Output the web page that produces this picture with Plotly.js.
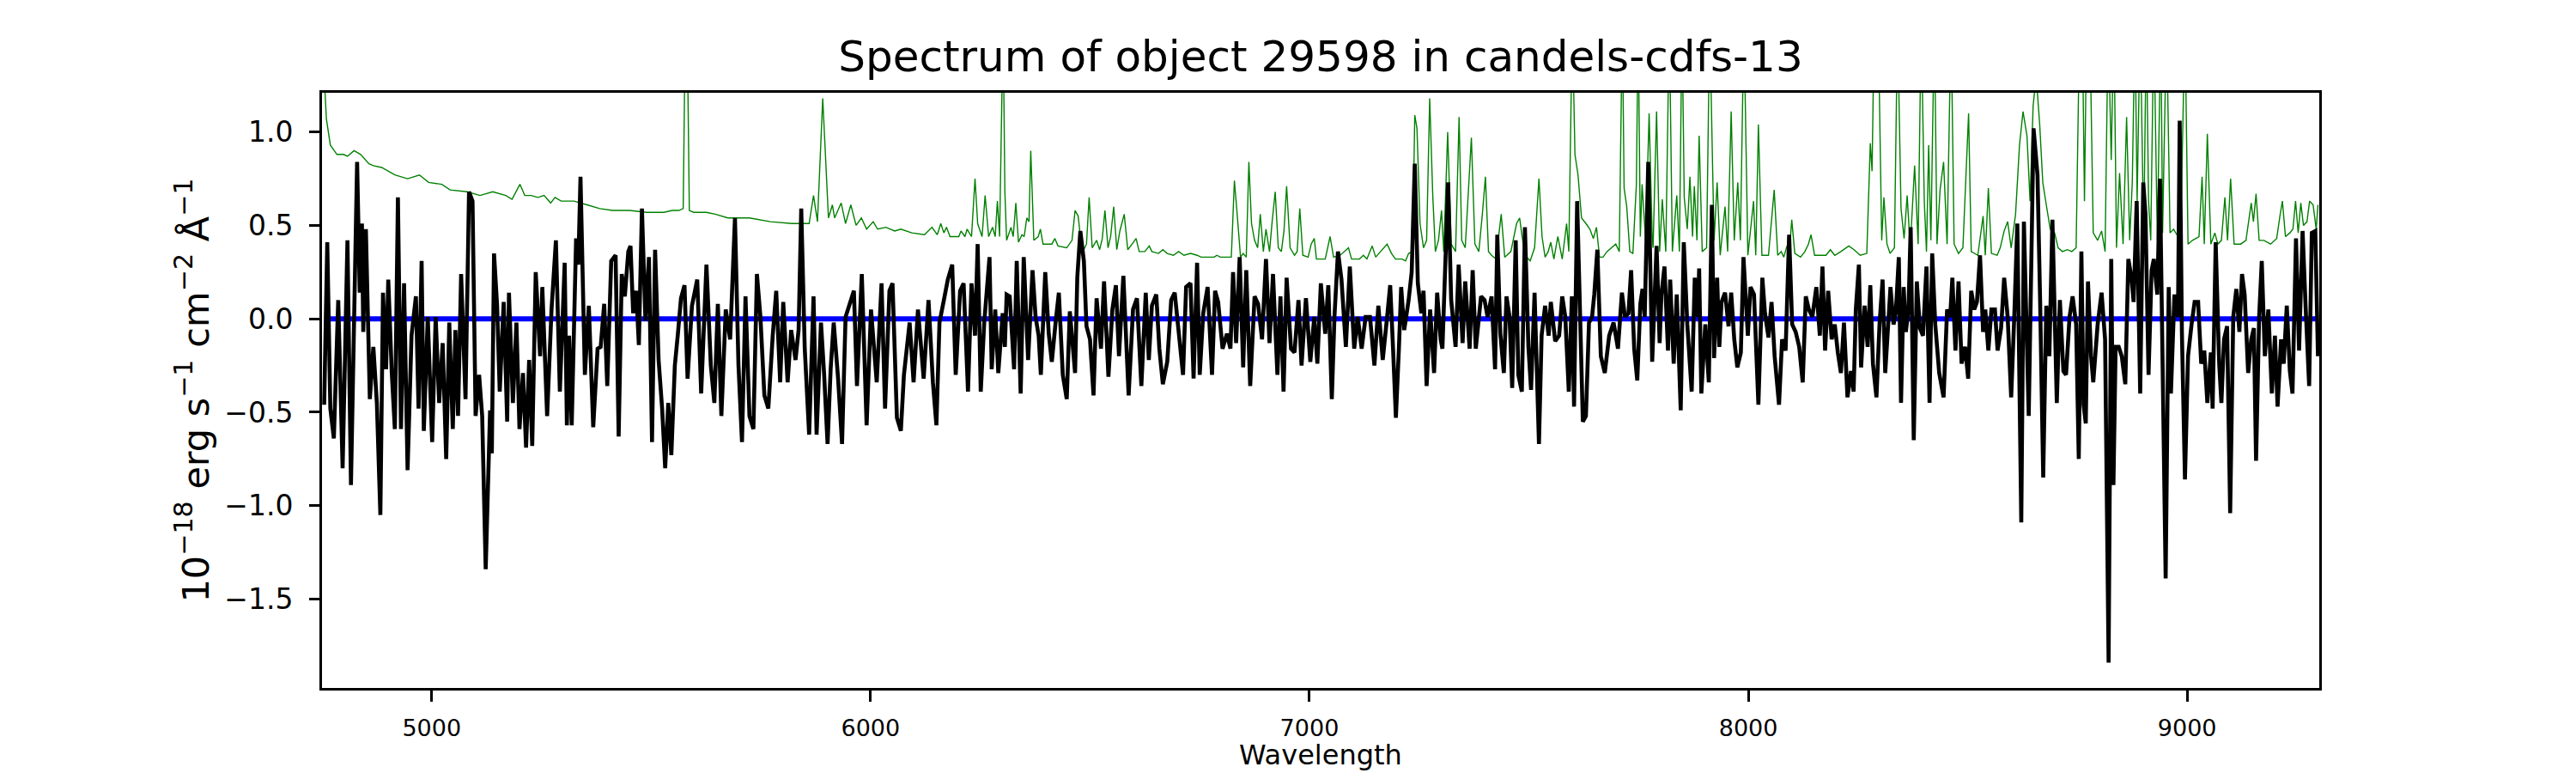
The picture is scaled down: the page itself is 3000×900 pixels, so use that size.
<!DOCTYPE html>
<html>
<head>
<meta charset="utf-8">
<script src="https://cdn.plot.ly/plotly-3.0.1.min.js"></script>
<style>html,body{margin:0;padding:0;background:#fff;}#chart{width:3000px;height:900px;}</style>
</head>
<body>
<div id="chart"></div>
<script>
const spectrumPoints = [
[4755,-0.46],[4762,0.41],[4769,-0.48],[4777,-0.64],[4787,0.10],[4797,-0.80],[4808,0.42],[4816,-0.89],[4830,0.84],[4836,0.14],
[4841,0.51],[4844,-0.07],[4850,0.48],[4859,-0.43],[4867,-0.15],[4875,-0.45],[4883,-1.05],[4889,0.14],[4896,-0.27],[4901,0.21],
[4909,-0.29],[4916,-0.59],[4923,0.65],[4930,-0.59],[4937,0.19],[4945,-0.81],[4954,-0.09],[4964,0.12],[4970,-0.48],[4977,0.31],
[4982,-0.60],[4991,0.01],[5001,-0.66],[5009,0.01],[5017,-0.45],[5025,-0.13],[5033,-0.75],[5040,-0.02],[5048,-0.59],[5054,-0.06],
[5060,-0.52],[5067,0.24],[5077,-0.43],[5085,0.68],[5093,0.63],[5100,-0.52],[5108,-0.30],[5115,-0.52],[5123,-1.34],[5133,-0.49],
[5137,-0.72],[5142,0.35],[5149,0.07],[5155,-0.39],[5164,0.09],[5172,-0.55],[5176,0.14],[5185,-0.45],[5193,-0.02],[5200,-0.59],
[5208,-0.29],[5215,-0.69],[5222,-0.22],[5229,-0.68],[5237,0.25],[5247,-0.20],[5252,0.17],[5263,-0.52],[5273,0.05],[5283,0.42],
[5292,-0.39],[5303,0.30],[5308,-0.57],[5313,-0.09],[5319,-0.57],[5329,0.43],[5334,0.29],[5339,0.76],[5349,-0.30],[5358,0.07],
[5368,-0.58],[5378,-0.16],[5385,-0.15],[5393,0.08],[5400,-0.36],[5409,0.31],[5419,0.34],[5426,-0.63],[5433,0.24],[5440,0.12],
[5448,0.36],[5453,0.39],[5459,0.03],[5466,0.15],[5472,-0.14],[5479,0.59],[5487,-0.01],[5495,0.33],[5502,-0.66],[5509,0.37],
[5517,-0.22],[5525,-0.48],[5532,-0.80],[5539,-0.45],[5546,-0.73],[5554,-0.25],[5561,-0.08],[5568,0.11],[5576,0.18],[5583,-0.32],
[5593,0.07],[5605,0.21],[5614,-0.40],[5626,0.29],[5636,-0.25],[5644,-0.45],[5652,0.08],[5660,-0.52],[5670,0.05],[5680,-0.11],
[5691,0.54],[5699,-0.25],[5707,-0.66],[5715,0.12],[5724,-0.52],[5733,-0.59],[5741,0.24],[5749,0.01],[5758,-0.41],[5767,-0.48],
[5777,-0.09],[5785,0.15],[5794,-0.34],[5801,0.09],[5811,-0.34],[5819,-0.06],[5829,-0.22],[5836,-0.06],[5842,0.59],[5850,-0.16],
[5860,-0.62],[5870,0.12],[5877,-0.62],[5887,-0.02],[5894,-0.29],[5902,-0.67],[5909,-0.27],[5916,-0.02],[5926,-0.32],[5935,-0.67],
[5943,0.01],[5952,0.07],[5962,0.15],[5969,-0.36],[5980,0.24],[5991,-0.57],[6001,0.05],[6014,-0.34],[6025,0.19],[6033,-0.48],
[6043,0.15],[6050,0.19],[6060,-0.53],[6069,-0.60],[6076,-0.30],[6089,-0.02],[6098,-0.34],[6108,0.05],[6121,-0.32],[6132,0.10],
[6142,-0.34],[6150,-0.57],[6157,-0.02],[6167,0.10],[6176,0.21],[6186,0.29],[6194,-0.30],[6204,0.15],[6212,0.19],[6222,-0.39],
[6230,0.19],[6238,-0.09],[6244,0.40],[6251,-0.39],[6259,-0.02],
[6271,0.33],[6276,-0.27],[6284,0.05],[6291,-0.29],[6301,0.03],[6306,-0.15],[6310,0.13],[6317,0.12],[6327,-0.27],[6333,0.31],
[6342,-0.40],[6349,0.33],[6359,-0.22],[6369,0.26],[6376,0.01],[6383,-0.09],[6388,-0.30],[6398,0.25],[6406,-0.08],[6413,-0.23],
[6422,-0.01],[6429,0.14],[6438,-0.30],[6447,-0.43],[6454,0.04],[6461,-0.15],[6466,-0.29],[6471,0.22],[6478,0.47],[6486,0.31],
[6492,-0.04],[6500,-0.11],[6508,-0.41],[6515,0.11],[6525,-0.16],[6532,0.20],[6542,-0.31],[6551,0.05],[6559,0.18],[6566,-0.20],
[6576,0.23],[6588,-0.41],[6598,0.05],[6607,0.11],[6617,-0.36],[6627,0.14],[6634,-0.22],[6641,0.07],[6651,0.13],[6658,-0.16],
[6666,-0.35],[6676,-0.23],[6685,0.10],[6693,0.14],[6703,-0.11],[6712,-0.30],[6719,0.17],[6729,0.19],[6736,-0.32],[6744,0.30],
[6750,-0.30],[6758,0.03],[6768,0.17],[6778,-0.30],[6785,0.15],[6792,0.09],[6802,-0.16],[6812,-0.08],[6820,-0.16],[6826,0.25],
[6833,-0.13],[6841,0.33],[6849,-0.26],[6856,0.26],[6865,-0.36],[6875,0.12],[6883,0.08],[6892,-0.11],[6901,0.32],[6909,-0.13],
[6917,0.24],[6927,-0.30],[6934,0.12],[6941,-0.39],[6948,0.22],[6958,-0.16],[6966,-0.18],[6975,0.10],[6982,-0.25],[6992,0.11],
[7002,-0.23],[7011,0.01],[7018,-0.24],[7026,0.19],[7036,-0.08],[7043,0.18],[7051,-0.43],[7057,0.01],[7065,0.36],[7073,0.21],
[7083,-0.15],[7092,0.28],[7102,-0.16],[7110,0.01],[7119,-0.16],[7128,0.01],[7138,0.01],[7148,-0.25],[7157,0.07],[7167,-0.22],
[7177,0.01],[7184,0.18],[7190,-0.13],[7197,-0.53],[7204,-0.15],[7209,0.17],[7216,-0.06],[7226,0.10],[7233,0.25],[7240,0.83],
[7247,0.19],[7255,0.03],[7260,0.15],[7267,-0.36],[7275,0.05],[7284,-0.29],[7291,0.14],[7299,-0.11],[7303,-0.16],[7308,0.19],
[7316,0.73],[7323,0.10],[7333,-0.15],[7340,0.29],[7349,-0.13],[7355,0.20],[7365,-0.16],[7372,0.26],[7379,-0.16],[7391,0.12],
[7399,0.10],[7406,0.01],[7415,0.12],[7423,-0.27],[7428,0.45],[7435,-0.08],[7443,-0.29],[7449,0.12],[7456,0.01],[7462,-0.37],
[7470,0.42],[7476,-0.30],[7484,-0.39],[7491,0.49],[7499,-0.15],[7505,-0.38],[7513,0.14],[7523,-0.67],[7529,-0.09],[7537,0.07],
[7545,-0.09],[7550,0.09],[7560,-0.12],[7569,-0.09],[7576,0.12],[7583,0.01],[7591,-0.39],[7598,0.12],[7603,-0.47],[7610,0.63],
[7616,0.01],[7623,-0.55],[7630,-0.52],[7637,-0.02],[7644,0.01],[7649,0.13],[7656,0.37],[7664,-0.20],[7673,-0.29],[7683,-0.09],
[7693,-0.02],[7703,-0.16],[7712,0.14],[7719,0.01],[7727,0.03],[7733,0.26],[7740,-0.16],[7747,-0.33],[7754,0.08],[7759,0.16],
[7764,0.01],[7772,0.84],[7781,-0.23],[7791,0.39],
[7798,-0.13],[7802,0.13],[7809,0.28],[7817,-0.17],[7822,0.21],[7830,-0.24],[7837,0.13],[7846,-0.49],[7853,0.41],[7861,-0.03],
[7871,-0.39],[7878,0.22],[7885,0.01],[7888,0.27],[7893,-0.40],[7902,-0.03],[7910,-0.34],[7917,0.61],[7922,-0.21],[7929,0.22],
[7934,-0.15],[7939,0.09],[7947,0.14],[7955,-0.04],[7961,0.14],[7968,-0.11],[7975,-0.26],[7983,-0.18],[7989,0.33],[7999,-0.09],
[8005,0.17],[8013,0.13],[8023,-0.46],[8032,0.22],[8038,0.03],[8046,-0.10],[8053,0.09],[8060,-0.20],[8070,-0.46],[8077,-0.11],
[8085,-0.17],[8093,0.45],[8100,-0.03],[8108,-0.07],[8116,-0.15],[8124,-0.34],[8131,0.12],[8138,0.05],[8146,0.01],[8155,0.17],
[8163,-0.09],[8169,0.28],[8175,-0.17],[8182,0.15],[8190,-0.11],[8197,-0.03],[8204,-0.18],[8211,-0.29],[8218,-0.02],[8226,-0.42],
[8234,-0.28],[8240,-0.39],[8245,0.05],[8252,0.29],[8257,-0.26],[8265,0.07],[8272,-0.15],[8278,0.18],[8284,-0.24],[8292,-0.42],
[8299,-0.03],[8306,0.21],[8312,-0.29],[8318,-0.09],[8324,0.17],[8331,-0.03],[8336,0.03],[8343,0.33],[8348,-0.45],[8354,0.17],
[8359,-0.07],[8365,0.05],[8370,0.49],[8377,-0.65],[8384,0.20],[8391,-0.05],[8398,-0.09],[8406,0.28],[8413,-0.45],[8419,0.35],
[8426,-0.03],[8435,-0.29],[8445,-0.42],[8453,0.05],[8460,0.01],[8465,0.22],[8472,-0.17],[8479,0.20],[8486,-0.24],[8494,-0.15],
[8501,-0.32],[8508,0.15],[8515,0.05],[8521,0.09],[8528,0.34],[8535,-0.07],[8540,0.05],[8547,-0.17],[8554,0.05],[8562,0.05],
[8568,-0.17],[8576,-0.05],[8583,0.22],[8591,0.01],[8599,-0.42],[8606,0.01],[8613,0.51],[8622,-1.09],[8628,0.52],[8633,0.05],
[8639,-0.52],[8650,1.02],[8659,0.77],[8665,0.09],[8672,-0.85],[8679,0.07],[8686,-0.20],[8693,0.53],[8698,-0.07],[8703,-0.45],
[8710,0.10],[8718,-0.28],[8724,-0.30],[8732,0.01],[8739,0.12],[8747,-0.03],[8753,-0.75],[8759,0.36],[8764,-0.46],[8769,-0.56],
[8774,0.20],[8781,-0.20],[8786,-0.34],[8796,-0.03],[8805,0.14],[8813,-0.11],[8821,-1.84],[8827,0.32],[8832,-0.89],[8837,-0.15],
[8844,-0.15],[8851,-0.20],[8859,-0.35],[8866,0.32],[8873,0.22],[8878,0.09],[8885,0.63],[8893,-0.40],[8900,0.73],[8905,0.56],
[8912,-0.30],[8919,0.26],[8924,0.32],[8932,0.13],[8938,0.75],[8945,-0.52],[8951,-1.39],[8958,0.17],[8963,-0.40],[8971,0.13],
[8979,0.01],[8983,1.06],[8988,-0.07],[8995,-0.86],[9002,-0.20],[9010,-0.03],[9017,0.09],[9025,0.09],[9032,-0.24],[9039,-0.17],
[9046,-0.45],[9054,-0.18],[9058,-0.48],[9065,0.41],[9073,-0.24],[9078,-0.45],[9084,-0.11],[9091,-0.04],[9098,-1.04],[9105,0.01],
[9112,0.16],[9119,-0.07],[9125,0.24],[9131,0.13],[9139,-0.29],[9146,-0.11],[9152,-0.05],[9157,-0.76],[9164,0.01],[9170,0.31],
[9177,-0.20],[9185,0.05],[9193,-0.40],[9200,-0.09],[9206,-0.47],[9214,-0.11],[9220,-0.24],[9227,0.07],[9234,-0.28],[9240,-0.40],
[9248,0.43],[9255,-0.17],[9263,0.47],[9270,0.06],[9278,-0.36],[9284,0.46],[9292,0.47],[9298,-0.20]
];

// Uncertainty / sky (green), values above 1.21 run off the top of the axes
const errorPoints = [
[4750,1.40],[4755,1.30],[4760,1.07],[4769,0.93],[4784,0.88],[4799,0.88],[4808,0.87],[4823,0.90],[4838,0.88],[4857,0.83],
[4867,0.82],[4886,0.81],[4916,0.77],[4945,0.75],[4972,0.77],[4993,0.73],[5023,0.72],[5042,0.69],[5081,0.68],[5110,0.66],
[5139,0.68],[5169,0.66],[5183,0.64],[5201,0.72],[5212,0.66],[5227,0.66],[5242,0.65],[5256,0.66],[5271,0.62],[5281,0.65],
[5295,0.63],[5324,0.63],[5354,0.61],[5383,0.59],[5412,0.58],[5451,0.58],[5490,0.57],[5529,0.57],[5548,0.58],[5563,0.58],
[5573,0.59],[5578,1.60],[5582,1.60],[5587,0.58],[5597,0.57],[5626,0.57],[5646,0.56],[5675,0.54],[5724,0.54],[5772,0.52],
[5821,0.51],[5860,0.51],[5870,0.66],[5879,0.52],[5891,1.18],[5897,0.89],[5904,0.54],[5913,0.61],[5918,0.54],[5933,0.62],
[5943,0.51],[5955,0.61],[5967,0.50],[5979,0.54],[5991,0.48],[6006,0.52],[6016,0.48],[6035,0.49],[6055,0.47],[6069,0.48],
[6094,0.46],[6123,0.45],[6140,0.49],[6152,0.45],[6160,0.51],[6167,0.46],[6173,0.49],[6181,0.44],[6201,0.44],[6206,0.47],
[6215,0.44],[6220,0.48],[6230,0.44],[6238,0.75],[6244,0.51],[6254,0.44],[6261,0.66],[6269,0.44],[6278,0.49],[6284,0.44],
[6289,0.63],[6294,0.44],[6302,1.60],[6306,0.68],[6310,0.42],[6320,0.49],[6325,0.44],[6331,0.62],[6337,0.41],[6345,0.45],
[6350,0.44],[6356,0.54],[6361,0.52],[6365,0.90],[6372,0.42],[6382,0.44],[6387,0.48],[6393,0.40],[6413,0.40],[6420,0.43],
[6427,0.39],[6447,0.38],[6459,0.42],[6466,0.58],[6473,0.55],[6479,0.42],[6486,0.37],[6492,0.40],[6498,0.65],[6505,0.38],
[6515,0.42],[6522,0.37],[6528,0.43],[6534,0.58],[6541,0.38],[6547,0.44],[6554,0.60],[6561,0.37],[6568,0.47],[6578,0.56],
[6586,0.37],[6596,0.40],[6605,0.43],[6612,0.36],[6625,0.36],[6635,0.39],[6641,0.36],[6656,0.35],[6666,0.37],[6676,0.35],
[6690,0.34],[6702,0.36],[6714,0.34],[6729,0.35],[6744,0.34],[6753,0.33],[6783,0.33],[6789,0.34],[6797,0.33],[6822,0.33],
[6829,0.74],[6836,0.54],[6843,0.33],[6849,0.35],[6856,0.33],[6862,0.84],[6868,0.51],[6875,0.42],[6882,0.38],[6888,0.56],
[6895,0.36],[6901,0.48],[6909,0.36],[6915,0.52],[6922,0.68],[6929,0.38],[6936,0.36],[6942,0.47],[6948,0.71],[6956,0.38],
[6966,0.34],[6972,0.36],[6978,0.59],[6985,0.34],[6997,0.33],[7004,0.40],[7011,0.43],[7016,0.32],[7036,0.32],[7047,0.44],
[7055,0.33],[7070,0.34],[7080,0.36],[7089,0.38],[7096,0.32],[7114,0.32],[7123,0.34],[7131,0.32],[7143,0.39],[7151,0.33],
[7162,0.36],[7177,0.40],[7187,0.35],[7196,0.32],[7211,0.32],[7219,0.31],[7226,0.35],[7235,0.36],[7240,1.09],[7245,1.02],
[7252,0.51],[7260,0.38],[7267,0.42],[7274,1.18],[7281,0.66],[7287,0.36],[7294,0.42],[7301,0.58],[7306,0.36],[7315,1.00],
[7323,0.40],[7333,0.36],[7341,1.08],[7347,0.42],[7355,0.38],[7362,0.68],[7369,0.97],[7377,0.40],[7386,0.36],[7394,0.56],
[7401,0.76],[7408,0.36],[7415,0.34],[7425,0.32],[7437,0.56],[7445,0.33],[7459,0.36],[7472,0.51],[7479,0.54],[7484,0.45],
[7491,0.34],[7503,0.31],[7513,0.38],[7523,0.75],[7530,0.44],[7537,0.33],[7544,0.36],[7550,0.41],[7557,0.32],[7566,0.44],
[7576,0.32],[7586,0.51],[7591,0.36],[7599,1.60],[7605,0.88],[7612,0.77],[7620,0.54],[7630,0.51],[7639,0.48],[7647,0.43],
[7654,0.49],[7661,0.33],[7669,0.33],[7678,0.36],[7688,0.38],[7698,0.40],[7706,0.36],[7713,1.60],[7717,0.70],[7723,0.60],
[7730,0.36],[7737,0.35],[7745,0.72],[7749,1.60],[7754,0.44],[7758,0.72],[7766,0.42],[7774,1.10],[7781,0.44],[7783,0.38],
[7791,1.11],[7798,0.36],[7804,0.64],[7812,0.36],[7820,1.60],[7827,0.36],[7837,0.66],[7843,0.36],[7849,1.60],[7854,0.65],
[7861,0.48],[7867,0.76],[7873,0.44],[7877,0.71],[7883,0.42],[7888,0.98],[7895,0.36],[7905,0.38],[7912,1.60],[7917,0.93],
[7922,0.42],[7929,0.73],[7936,0.34],[7947,0.60],[7953,0.36],[7961,1.11],[7968,0.42],[7976,0.73],[7982,0.42],[7990,1.60],
[7999,0.34],[8012,0.63],[8017,0.34],[8023,1.04],[8031,0.34],[8046,0.34],[8059,0.69],[8067,0.34],[8075,0.36],[8081,0.33],
[8088,0.39],[8093,0.34],[8099,0.53],[8106,0.35],[8119,0.33],[8129,0.36],[8137,0.40],[8143,0.45],[8151,0.34],[8168,0.34],
[8177,0.34],[8187,0.37],[8197,0.34],[8211,0.36],[8229,0.39],[8241,0.37],[8255,0.34],[8270,0.35],[8278,0.94],[8282,0.79],
[8287,1.60],[8296,1.60],[8304,0.42],[8309,0.65],[8316,0.40],[8323,0.35],[8333,0.38],[8340,1.60],[8348,0.59],[8355,0.43],
[8362,0.66],[8369,0.38],[8379,0.82],[8387,0.40],[8394,1.60],[8401,0.63],[8406,0.36],[8411,0.93],[8416,0.42],[8424,1.60],
[8430,0.40],[8437,0.69],[8445,0.84],[8453,0.40],[8462,1.60],[8469,0.40],[8479,0.35],[8489,0.38],[8502,1.10],[8508,0.36],
[8523,0.34],[8535,0.55],[8540,0.34],[8547,0.70],[8554,0.35],[8567,0.34],[8574,0.38],[8583,0.47],[8591,0.52],[8599,0.38],
[8609,0.56],[8618,0.93],[8626,1.11],[8635,0.98],[8642,0.63],[8649,1.14],[8656,1.30],[8664,1.04],[8671,0.73],[8679,0.61],
[8688,0.48],[8698,0.46],[8706,0.38],[8716,0.36],[8727,0.37],[8737,0.36],[8747,0.38],[8755,1.60],[8761,1.60],[8766,0.63],
[8771,1.60],[8778,1.60],[8786,0.46],[8796,0.42],[8805,0.47],[8813,0.36],[8820,1.60],[8827,0.85],[8833,1.60],[8839,0.38],
[8846,0.78],[8854,0.40],[8862,1.08],[8869,0.42],[8875,0.73],[8881,1.60],[8886,0.63],[8893,1.60],[8901,0.42],[8907,1.60],
[8912,0.63],[8917,0.42],[8924,1.60],[8932,0.42],[8940,1.60],[8944,0.46],[8949,1.04],[8953,1.60],[8961,0.46],[8969,0.48],
[8979,0.44],[8987,0.67],[8995,1.60],[9002,0.40],[9012,0.42],[9019,0.43],[9027,0.44],[9034,0.76],[9039,0.40],[9046,0.99],
[9054,0.40],[9063,0.46],[9070,0.40],[9078,0.42],[9086,0.65],[9092,0.42],[9099,0.75],[9107,0.40],[9122,0.40],[9134,0.42],
[9146,0.62],[9151,0.52],[9157,0.67],[9164,0.42],[9175,0.42],[9190,0.40],[9204,0.43],[9212,0.56],[9217,0.63],[9224,0.44],
[9234,0.46],[9241,0.48],[9247,0.63],[9253,0.46],[9259,0.62],[9265,0.50],[9273,0.52],[9279,0.63],[9287,0.61],[9294,0.48],
[9298,0.61]
];

// Model (blue): flat at zero
const modelWave = [4760, 9294];
const modelFlux = [0, 0];

const xTickVals = [5000, 6000, 7000, 8000, 9000];
const xTickText = ["5000", "6000", "7000", "8000", "9000"];
const yTickVals = [-1.5, -1.0, -0.5, 0.0, 0.5, 1.0];
const yTickText = ["\u22121.5", "\u22121.0", "\u22120.5", "0.0", "0.5", "1.0"];

const titleText = "Spectrum of object 29598 in candels-cdfs-13";
const xLabel = "Wavelength";
const yLabel = "10<sup>\u221218</sup> erg s<sup>\u22121</sup> cm<sup>\u22122</sup> \u00c5<sup>\u22121</sup>";

const FONT = "DejaVu Sans, Liberation Sans, sans-serif";

const traces = [
  {x: errorPoints.map(p => p[0]), y: errorPoints.map(p => p[1]), type: 'scatter', mode: 'lines',
   line: {color: '#008000', width: 1.4}, hoverinfo: 'skip'},
  {x: modelWave, y: modelFlux, type: 'scatter', mode: 'lines',
   line: {color: '#0000ff', width: 6}, hoverinfo: 'skip'},
  {x: spectrumPoints.map(p => p[0]), y: spectrumPoints.map(p => p[1]), type: 'scatter', mode: 'lines',
   line: {color: '#000000', width: 4.6}, hoverinfo: 'skip'}
];

const layout = {
  width: 3000, height: 900,
  paper_bgcolor: '#ffffff', plot_bgcolor: '#ffffff',
  showlegend: false,
  margin: {l: 375, r: 299, t: 108, b: 99, pad: 0},
  font: {family: FONT, color: '#000000'},
  title: {text: titleText, x: 0.5, xref: 'paper', xanchor: 'center',
          y: 1 - 65/900, yref: 'container', yanchor: 'middle',
          font: {family: FONT, size: 50, color: '#000000'}},
  xaxis: {range: [4750, 9301], tickmode: 'array', tickvals: xTickVals, ticktext: xTickText,
          showgrid: false, zeroline: false, showline: true, mirror: true, linecolor: '#000000', linewidth: 3,
          ticks: 'outside', ticklen: 13, tickwidth: 3, tickcolor: '#000000',
          tickfont: {family: FONT, size: 27, color: '#000000'}, ticklabelstandoff: 8, automargin: false},
  yaxis: {range: [-1.976, 1.21], tickmode: 'array', tickvals: yTickVals, ticktext: yTickText,
          showgrid: false, zeroline: false, showline: true, mirror: true, linecolor: '#000000', linewidth: 3,
          ticks: 'outside', ticklen: 12, tickwidth: 3, tickcolor: '#000000',
          tickfont: {family: FONT, size: 33, color: '#000000'}, ticklabelstandoff: 12, automargin: false},
  annotations: [
    {text: xLabel, xref: 'paper', yref: 'paper', x: 0.5, y: (801 - 879) / 693, xanchor: 'center', yanchor: 'middle',
     showarrow: false, font: {family: FONT, size: 32, color: '#000000'}},
    {text: yLabel, xref: 'paper', yref: 'paper', x: (224 - 375) / 2326, y: 0.5, xanchor: 'center', yanchor: 'middle',
     textangle: -90, showarrow: false, font: {family: FONT, size: 43, color: '#000000'}}
  ]
};

Plotly.newPlot('chart', traces, layout, {staticPlot: true, displayModeBar: false});
</script>
</body>
</html>
